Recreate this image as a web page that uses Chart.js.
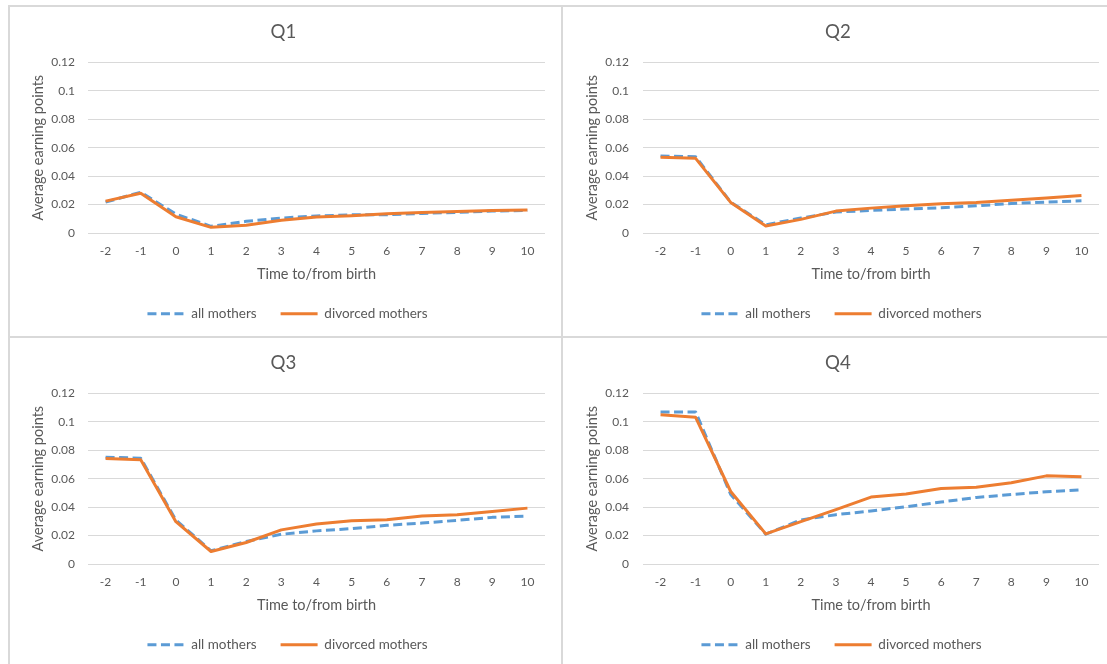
<!DOCTYPE html>
<html>
<head>
<meta charset="utf-8">
<script src="https://cdn.jsdelivr.net/npm/chart.js@4/dist/chart.umd.min.js"></script>
<style>
  html, body { margin: 0; padding: 0; background: #ffffff; }
  body { width: 1107px; height: 664px; position: relative; overflow: hidden; }
  canvas { position: absolute; }
  .ln { position: absolute; background: #d9d9d9; }
</style>
</head>
<body>
<div class="ln" style="left:8px; top:5px; width:1099px; height:2px;"></div>
<div class="ln" style="left:8px; top:5px; width:2px; height:659px;"></div>
<div class="ln" style="left:561px; top:5px; width:2px; height:659px;"></div>
<div class="ln" style="left:8px; top:336px; width:1099px; height:2px;"></div>

<canvas id="c1" width="550" height="328" style="left:10px; top:7px;"></canvas>
<canvas id="c2" width="543" height="328" style="left:564px; top:7px;"></canvas>
<canvas id="c3" width="550" height="326" style="left:10px; top:338px;"></canvas>
<canvas id="c4" width="543" height="326" style="left:564px; top:338px;"></canvas>

<script>
// ---- data ----
const categories = ['-2', '-1', '0', '1', '2', '3', '4', '5', '6', '7', '8', '9', '10'];
const seriesNames = ['all mothers', 'divorced mothers'];
const panelTitles = ['Q1', 'Q2', 'Q3', 'Q4'];
const yTickValues = [0, 0.02, 0.04, 0.06, 0.08, 0.1, 0.12];
const yTickLabels = ['0', '0.02', '0.04', '0.06', '0.08', '0.1', '0.12'];

const q1All = [0.0217, 0.0287, 0.0133, 0.0047, 0.0082, 0.0105, 0.0120, 0.0128, 0.0128, 0.0138, 0.0145, 0.0154, 0.0159];
const q1Div = [0.0224, 0.0280, 0.0114, 0.0040, 0.0054, 0.0089, 0.0112, 0.0121, 0.0135, 0.0145, 0.0152, 0.0159, 0.0161];

const q2All = [0.0542, 0.0537, 0.0217, 0.0058, 0.0105, 0.0147, 0.0159, 0.0168, 0.0177, 0.0191, 0.0208, 0.0217, 0.0226];
const q2Div = [0.0532, 0.0525, 0.0215, 0.0049, 0.0096, 0.0154, 0.0175, 0.0191, 0.0205, 0.0215, 0.0231, 0.0247, 0.0264];

const q3All = [0.0751, 0.0744, 0.0309, 0.0093, 0.0158, 0.0209, 0.0233, 0.0249, 0.0272, 0.0288, 0.0307, 0.0328, 0.0337];
const q3Div = [0.0742, 0.0733, 0.0298, 0.0088, 0.0151, 0.0240, 0.0281, 0.0305, 0.0312, 0.0337, 0.0347, 0.0370, 0.0393];

const q4All = [0.1070, 0.1070, 0.0489, 0.0210, 0.0310, 0.0347, 0.0373, 0.0403, 0.0436, 0.0468, 0.0489, 0.0508, 0.0522];
const q4Div = [0.1049, 0.1032, 0.0510, 0.0212, 0.0298, 0.0382, 0.0471, 0.0492, 0.0531, 0.0540, 0.0571, 0.0620, 0.0613];

const xAxisTitle = 'Time to/from birth';
const yAxisTitle = 'Average earning points';

// ---- styling ----
const TXT = '#595959';
const GRID = '#d9d9d9';
const BLUE = '#5B9BD5';
const ORANGE = '#ED7D31';
const FONT = 'Lato, "Open Sans", sans-serif';

// shift the legend horizontally after layout
const legendShift = {
  id: 'legendShift',
  afterLayout(chart, args, opts) {
    const dx = opts.dx || 0;
    if (chart.legend) { chart.legend.left += dx; chart.legend.right += dx; }
  }
};

function makeChart(id, title, allData, divData, lay) {
  const canvas = document.getElementById(id);
  const H = canvas.height;
  const chartBottom = 226, legendH = 13.5 + 24 + 10, xH = 50;
  const padBottom = H - chartBottom - legendH - xH;
  return new Chart(canvas, {
    type: 'line',
    plugins: [legendShift],
    data: {
      labels: categories,
      datasets: [
        {
          label: seriesNames[0],
          data: allData,
          borderColor: BLUE,
          backgroundColor: BLUE,
          borderWidth: 3,
          borderDash: [9, 4.5],
          pointRadius: 0,
          tension: 0,
          fill: false,
          order: 1,
          borderJoinStyle: 'round'
        },
        {
          label: seriesNames[1],
          data: divData,
          borderColor: ORANGE,
          backgroundColor: ORANGE,
          borderWidth: 3,
          pointRadius: 0,
          tension: 0,
          fill: false,
          order: 0,
          borderJoinStyle: 'round'
        }
      ]
    },
    options: {
      responsive: false,
      animation: false,
      devicePixelRatio: 1,
      layout: { padding: { left: lay.padL, right: lay.padR, top: 0, bottom: padBottom } },
      plugins: {
        legendShift: { dx: lay.legendDx },
        tooltip: { enabled: false },
        title: {
          display: true,
          text: title,
          color: TXT,
          font: { family: FONT, size: 18.67, weight: 'normal', lineHeight: 1.2 },
          padding: { top: 14, bottom: 19 }
        },
        legend: {
          display: true,
          position: 'bottom',
          labels: {
            color: TXT,
            font: { family: FONT, size: 13.5 },
            usePointStyle: true,
            pointStyle: 'line',
            pointStyleWidth: 37,
            padding: 24,
            sort: (a, b) => a.datasetIndex - b.datasetIndex,
            generateLabels: (chart) => {
              const items = Chart.defaults.plugins.legend.labels.generateLabels(chart);
              items.forEach(it => {
                const ds = chart.data.datasets[it.datasetIndex];
                it.lineDash = ds.borderDash || [];
                it.lineWidth = ds.borderWidth;
                it.strokeStyle = ds.borderColor;
                it.fillStyle = ds.borderColor;
                it.pointStyle = 'line';
              });
              return items;
            }
          }
        }
      },
      scales: {
        x: {
          offset: true,
          grid: { display: false, drawTicks: false },
          border: { display: false },
          ticks: { color: TXT, font: { family: FONT, size: 12 }, padding: 11, maxRotation: 0, autoSkip: false },
          title: { display: true, text: xAxisTitle, color: TXT, font: { family: FONT, size: 14.5 }, padding: { top: 0, bottom: 0 } },
          afterFit: (s) => { s.height = xH; }
        },
        y: {
          min: 0,
          max: 0.12,
          afterBuildTicks: (s) => { s.ticks = yTickValues.map(v => ({ value: v })); },
          grid: { color: GRID, lineWidth: 1, drawTicks: false },
          border: { display: false },
          ticks: {
            color: TXT,
            font: { family: FONT, size: 12 },
            padding: lay.tickPad,
            callback: (v) => { const i = yTickValues.findIndex(t => Math.abs(t - v) < 1e-9); return i >= 0 ? yTickLabels[i] : ''; }
          },
          title: { display: true, text: yAxisTitle, color: TXT, font: { family: FONT, size: 14.5 }, padding: { top: lay.yTitlePad, bottom: 0 } },
          afterFit: (s) => { s.width = lay.yWidth; }
        }
      }
    }
  });
}

const leftLayout = { padL: 12, padR: 15, yWidth: 66, tickPad: 13, yTitlePad: 7.3, legendDx: 4 };
const rightLayout = { padL: 13, padR: 8, yWidth: 66, tickPad: 14, yTitlePad: 6.3, legendDx: 3.5 };

makeChart('c1', panelTitles[0], q1All, q1Div, leftLayout);
makeChart('c2', panelTitles[1], q2All, q2Div, rightLayout);
makeChart('c3', panelTitles[2], q3All, q3Div, leftLayout);
makeChart('c4', panelTitles[3], q4All, q4Div, rightLayout);
</script>
</body>
</html>
